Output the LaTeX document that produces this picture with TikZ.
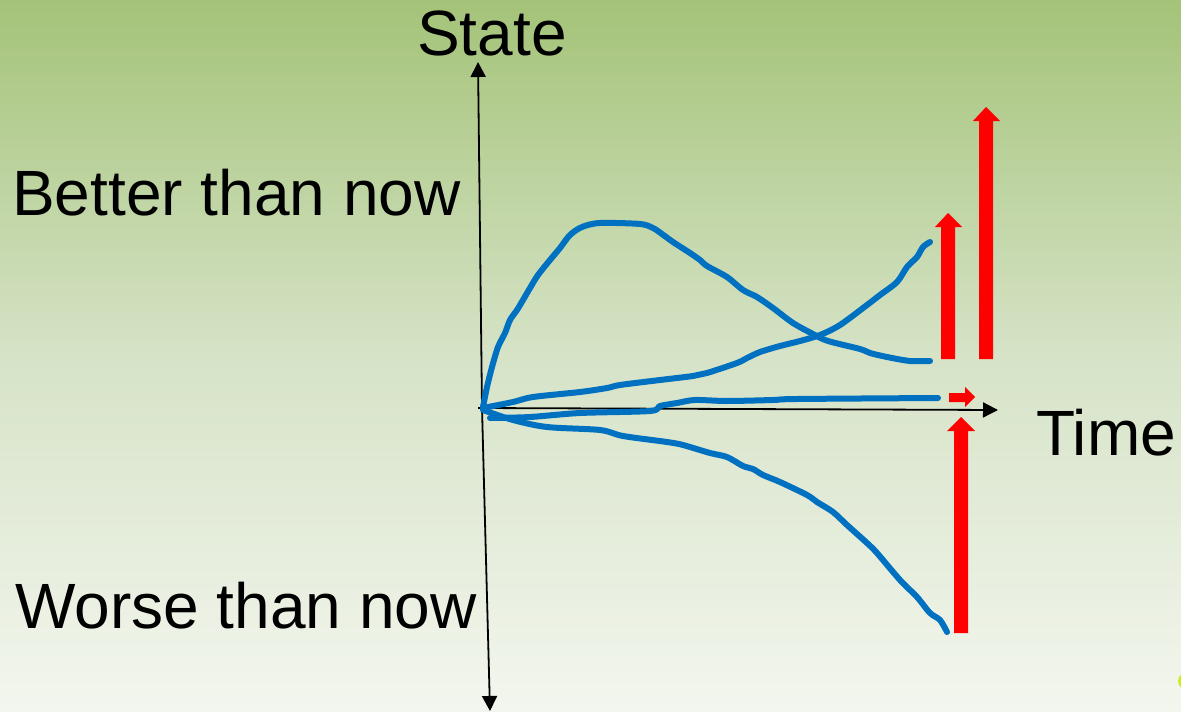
\documentclass[tikz,border=0pt]{standalone}
\usepackage{fontspec}
\setmainfont{Liberation Sans}
\usetikzlibrary{arrows.meta}
\definecolor{bgtop}{HTML}{A4C378}
\definecolor{bgmid}{HTML}{D6E3C7}
\definecolor{bgbot}{HTML}{F3F6EE}
\definecolor{curveblue}{HTML}{0070C0}
\definecolor{lime}{HTML}{C8F01E}
\tikzset{
  axis/.style={line width=1.8pt,-{Triangle[length=15pt,width=15pt]}},
  curve/.style={curveblue,line width=6pt,line cap=round,line join=round},
  lbl/.style={font=\fontsize{64}{76}\selectfont,inner sep=0pt,text=black},
  blockarrow/.style={fill=red,draw=none}
}
\begin{document}
\begin{tikzpicture}[x=1pt,y=-1pt]
\useasboundingbox (0,0) rectangle (1181,712);
\shade[top color=bgtop,bottom color=bgbot,middle color=bgmid] (0,0) rectangle (1181,712);
\begin{scope}
\clip (0,0) rectangle (1181,712);
\fill[lime] (1186,681) circle (8);
\end{scope}
% labels
\node[lbl,anchor=base] (state) at (492,55) {State};
\node[lbl,anchor=base west] (better) at (12,215) {Better than now};
\node[lbl,anchor=base west] (worse) at (15,628) {Worse than now};
\node[lbl,anchor=base west] (time) at (1036,455) {Time};
% axes
\coordinate (O) at (478,408);
\coordinate (ytop) at (478,62);
\coordinate (ybot) at (490,711);
\coordinate (xend) at (998,410);
\draw[axis] (482,408) -- (ytop);
\draw[axis] (482,408) -- (ybot);
\draw[axis] (O) -- (xend);
% curves
\draw[curve] plot[smooth,tension=0.5] coordinates {
 (483,407) (487,387) (492,367) (498,347) (505,333) (510,320) (517,310)
 (523,300) (530,288) (538,275) (550,260) (560,248) (570,235) (582,227)
 (600,223) (640,224) (653,228) (662,234) (673,242) (690,253) (700,260)
 (707,266) (727,277) (743,290) (757,297) (773,308) (793,323) (813,334)
 (828,341) (860,349) (870,353) (887,357) (910,361) (930,361)};
\draw[curve] plot[smooth,tension=0.5] coordinates {
 (483,408) (513,402) (533,397) (580,392) (607,388) (620,385) (660,380)
 (693,376) (707,373) (737,363) (747,358) (760,352) (780,346) (800,341)
 (820,335) (840,325) (867,305) (880,295) (897,282) (907,267) (917,257)
 (923,247) (930,242)};
\draw[curve] plot[smooth,tension=0.5] coordinates {
 (490,418) (530,417) (580,413) (650,411) (660,406) (677,403) (695,400)
 (727,401) (773,400) (797,399) (938,398)};
\draw[curve] plot[smooth,tension=0.5] coordinates {
 (483,410) (513,420) (547,427) (600,430) (623,436) (667,442) (683,445)
 (710,453) (727,457) (743,466) (753,469) (763,475) (780,482) (807,495)
 (817,502) (833,512) (847,525) (867,543) (877,553) (900,580) (917,597)
 (930,613) (940,620) (947,632)};
% red block arrows
\fill[blockarrow] (941,359) -- (941,227) -- (935,227) -- (948,213) -- (962,227) -- (955,227) -- (955,359) -- cycle;
\fill[blockarrow] (979,359) -- (979,121) -- (973,121) -- (986,107) -- (1000,121) -- (993,121) -- (993,359) -- cycle;
\fill[blockarrow] (954,633) -- (954,431) -- (947,431) -- (961,417) -- (975,431) -- (968,431) -- (968,633) -- cycle;
\fill[blockarrow] (949,393) -- (965,393) -- (965,387) -- (975,397) -- (965,407) -- (965,402) -- (949,402) -- cycle;
\end{tikzpicture}
\end{document}
